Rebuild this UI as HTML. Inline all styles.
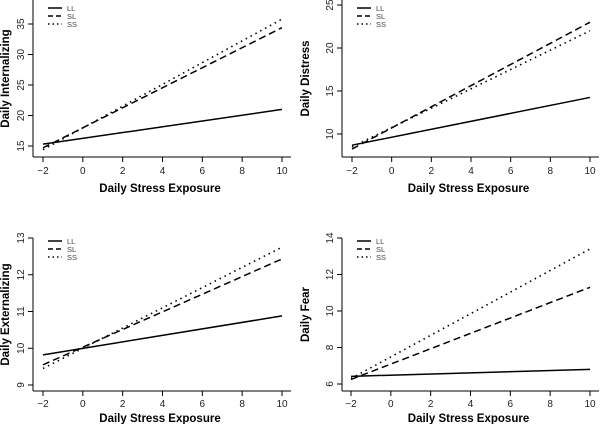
<!DOCTYPE html>
<html><head><meta charset="utf-8"><style>
body{margin:0;background:#fff;width:600px;height:424px;overflow:hidden}
svg{display:block;font-family:"Liberation Sans",Arial,sans-serif}
</style></head><body>
<svg id="c" width="600" height="424"></svg>
<script>
const xDomain = [-2, 10];
const xTicks = [-2, 0, 2, 4, 6, 8, 10];
const seriesNames = ["LL", "SL", "SS"];
const titles = ["Daily Internalizing", "Daily Distress", "Daily Externalizing", "Daily Fear"];
const yTicks1 = [15, 20, 25, 30, 35];
const yTicks2 = [10, 15, 20, 25];
const yTicks3 = [9, 10, 11, 12, 13];
const yTicks4 = [6, 8, 10, 12, 14];
const ll1 = [15.3, 21.0], sl1 = [14.7, 34.4], ss1 = [14.4, 35.8];
const ll2 = [8.7, 14.25], sl2 = [8.25, 23.0], ss2 = [8.5, 22.0];
const ll3 = [9.82, 10.88], sl3 = [9.55, 12.43], ss3 = [9.45, 12.75];
const ll4 = [6.42, 6.8], sl4 = [6.25, 11.3], ss4 = [6.3, 13.4];

const NS = "http://www.w3.org/2000/svg";
const svg = document.getElementById("c");
function mk(tag, attrs, parent, text){
  const e = document.createElementNS(NS, tag);
  for (const k in attrs) e.setAttribute(k, attrs[k]);
  if (text !== undefined) e.textContent = text;
  (parent || svg).appendChild(e);
  return e;
}
const dashes = ["", "7,4", "1.5,4"];
const panels = [
  {ox:0, oy:0, x0:43, x1:282, axL:33, axB:157, axR:291, yv:[15,35], yp:[146,24], ticks:yTicks1, s:[ll1,sl1,ss1], ytop:0, tl:17, tt:35},
  {ox:300, oy:0, x0:352, x1:590, axL:342, axB:157, axR:599, yv:[10,25], yp:[134,5], ticks:yTicks2, s:[ll2,sl2,ss2], ytop:0, tl:17, tt:35},
  {ox:0, oy:212, x0:43, x1:282, axL:33, axB:391, axR:291, yv:[9,13], yp:[385,238], ticks:yTicks3, s:[ll3,sl3,ss3], ytop:238, tl:16, tt:31},
  {ox:300, oy:212, x0:351, x1:590, axL:342, axB:391, axR:599, yv:[6,14], yp:[384,238], ticks:yTicks4, s:[ll4,sl4,ss4], ytop:238, tl:16, tt:31}
];
panels.forEach((p, i) => {
  const g = mk("g", {});
  
  
  const sx = v => p.x0 + (v - xDomain[0]) / (xDomain[1] - xDomain[0]) * (p.x1 - p.x0);
  const sy = v => p.yp[0] + (v - p.yv[0]) / (p.yv[1] - p.yv[0]) * (p.yp[1] - p.yp[0]);
  const xa = mk("line", {x1:p.axL, y1:p.axB, x2:p.axR, y2:p.axB, stroke:"#000", "stroke-width":1}, g);
  
  
  const ya = mk("line", {x1:p.axL, y1:p.axB, x2:p.axL, y2:p.ytop, stroke:"#000", "stroke-width":1}, g);
  
  
  xTicks.forEach(t => {
    mk("line", {x1:sx(t), y1:p.axB, x2:sx(t), y2:p.axB+5, stroke:"#000"}, g);
    const tl = mk("text", {x:sx(t), y:p.axB+p.tl, "font-size":10, "text-anchor":"middle", fill:"#222"}, g, t < 0 ? "\u2212" + (-t) : String(t));
    
    
  });
  p.ticks.forEach(t => {
    const y = sy(t);
    if (y < 0) return;
    mk("line", {x1:p.axL, y1:y, x2:p.axL-5, y2:y, stroke:"#000"}, g);
    const tl = mk("text", {x:p.axL-9, y:y, "font-size":10, "text-anchor":"middle", fill:"#222", transform:`rotate(-90 ${p.axL-9} ${y})`}, g, String(t));
    
    
  });
  const xt = mk("text", {x:(p.axL+p.axR)/2 - 2, y:p.axB+p.tt, "font-size":11.5, "font-weight":"bold", "text-anchor":"middle"}, g, "Daily Stress Exposure");
  
  
  const cy = (p.axB + Math.max(p.ytop, 0)) / 2 + (p.oy ? 0 : 0);
  const tx = p.ox + 9;
  const yt = mk("text", {x:tx, y:cy, "font-size":11.5, "font-weight":"bold", "text-anchor":"middle", transform:`rotate(-90 ${tx} ${cy})`}, g, titles[i]);
  
  
  p.s.forEach((vals, k) => {
    const ln = mk("line", {x1:sx(xDomain[0]), y1:sy(vals[0]), x2:sx(xDomain[1]), y2:sy(vals[1]), stroke:"#000", "stroke-width":k===2?1.6:1.5, "stroke-dasharray":dashes[k]}, g);
    
    
  });
  const lx = p.axL + 15, ly = (p.oy ? 241 : 8);
  seriesNames.forEach((n, k) => {
    const y = ly + k * 8;
    const sw = mk("line", {x1:lx, y1:y, x2:lx+14, y2:y, stroke:"#000", "stroke-width":1.5, "stroke-dasharray":k===1?"5,3":(k===2?"1.5,3":"")}, g);
    
    
    const lt = mk("text", {x:lx+19, y:y+3, "font-size":7.5, fill:"#444"}, g, n);
    
    
  });
});
</script>
</body></html>
